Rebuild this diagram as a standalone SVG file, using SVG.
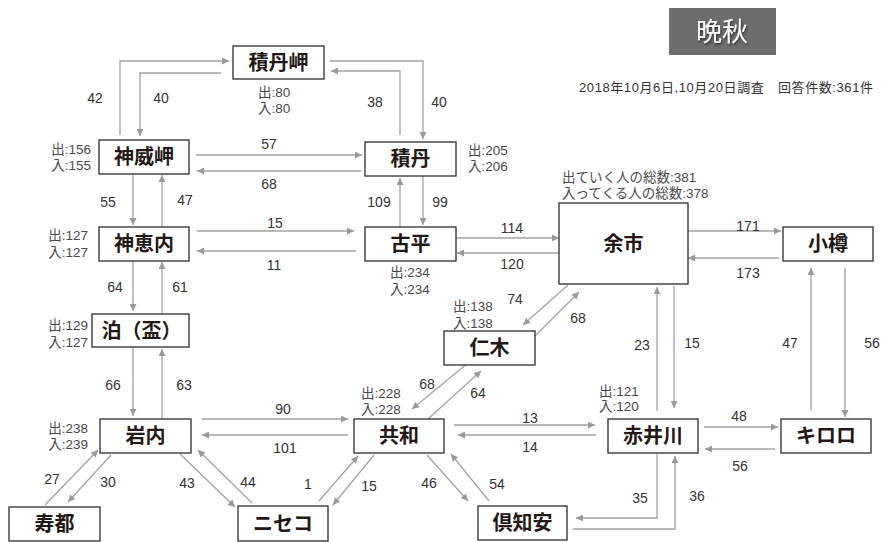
<svg xmlns="http://www.w3.org/2000/svg" width="884" height="542" viewBox="0 0 884 542">
<style>
text{font-family:"Liberation Sans","Noto Sans CJK JP",sans-serif}
.box{fill:#fff;stroke:#3e3a39;stroke-width:1.4}
.nl{font-size:20px;font-weight:bold;fill:#231815;text-anchor:middle}
.st{font-size:13.5px;fill:#4a4a4a}
.num{font-size:14px;fill:#333;text-anchor:middle}
.c path{fill:none;stroke:#a3a3a3;stroke-width:1.3;marker-end:url(#a)}
</style>
<defs>
<marker id="a" viewBox="0 0 10 10" refX="10" refY="5" markerWidth="8" markerHeight="7" markerUnits="userSpaceOnUse" orient="auto"><path d="M0,0 L10,5 L0,10 z" fill="#999"/></marker>
<filter id="sh" x="-20%" y="-20%" width="140%" height="140%"><feDropShadow dx="1" dy="1.5" stdDeviation="0.8" flood-color="#222" flood-opacity="0.9"/></filter>
</defs>
<rect width="884" height="542" fill="#fff"/>

<g id="title">
<rect x="669" y="8" width="107" height="47" fill="#6e6e6e"/>
<text x="722" y="41" font-size="26" fill="#fff" text-anchor="middle" filter="url(#sh)">晩秋</text>
<text x="579" y="92" font-size="13" fill="#333" textLength="294">2018年10月6日,10月20日調査　回答件数:361件</text>
</g>

<g class="c" id="connectors">
<path d="M120,135 V61 H229"/>
<path d="M221,73 H140 V136"/>
<path d="M400,135 V71 H331"/>
<path d="M330,61 H423 V139"/>
<path d="M196,155 H362"/>
<path d="M361,171 H197"/>
<path d="M400,227 V178"/>
<path d="M423,176 V225"/>
<path d="M133,174 V225"/>
<path d="M162,227 V175"/>
<path d="M197,231 H354"/>
<path d="M356,251 H197"/>
<path d="M133,261 V311"/>
<path d="M162,314 V262"/>
<path d="M133,347 V416"/>
<path d="M162,419 V349"/>
<path d="M202,419 H348"/>
<path d="M348,435 H202"/>
<path d="M45,505 L98,450"/>
<path d="M111,455 L68,502"/>
<path d="M180,454 L235,507"/>
<path d="M252,503 L198,450"/>
<path d="M319,501 L358,456"/>
<path d="M374,455 L333,505"/>
<path d="M427,455 L468,501"/>
<path d="M489,501 L451,454"/>
<path d="M454,425 H595"/>
<path d="M596,435 H458"/>
<path d="M428,419 L481,371"/>
<path d="M468,363 L412,409"/>
<path d="M568,285 L523,325"/>
<path d="M532,339 L579,292"/>
<path d="M456,238 H559"/>
<path d="M559,253 H457"/>
<path d="M688,231 H781"/>
<path d="M779,258 H688"/>
<path d="M657,411 V287"/>
<path d="M674,286 V408"/>
<path d="M811,411 V268"/>
<path d="M845,268 V417"/>
<path d="M704,427 H778"/>
<path d="M775,449 H705"/>
<path d="M657,454 V518 H576"/>
<path d="M573,529 H675 V456"/>
</g>

<g id="flow-labels">
<text class="num" x="95" y="103">42</text>
<text class="num" x="161" y="103">40</text>
<text class="num" x="375" y="107">38</text>
<text class="num" x="439" y="107">40</text>
<text class="num" x="269" y="149">57</text>
<text class="num" x="269" y="189">68</text>
<text class="num" x="108" y="207">55</text>
<text class="num" x="185" y="205">47</text>
<text class="num" x="275" y="228">15</text>
<text class="num" x="274" y="270">11</text>
<text class="num" x="115" y="292">64</text>
<text class="num" x="180" y="292">61</text>
<text class="num" x="379" y="207">109</text>
<text class="num" x="440" y="207">99</text>
<text class="num" x="512" y="233">114</text>
<text class="num" x="512" y="269">120</text>
<text class="num" x="515" y="304">74</text>
<text class="num" x="578" y="323">68</text>
<text class="num" x="748" y="231">171</text>
<text class="num" x="748" y="278">173</text>
<text class="num" x="642" y="350">23</text>
<text class="num" x="692" y="348">15</text>
<text class="num" x="790" y="348">47</text>
<text class="num" x="872" y="348">56</text>
<text class="num" x="113" y="390">66</text>
<text class="num" x="184" y="390">63</text>
<text class="num" x="283" y="414">90</text>
<text class="num" x="285" y="453">101</text>
<text class="num" x="52" y="484">27</text>
<text class="num" x="108" y="487">30</text>
<text class="num" x="187" y="488">43</text>
<text class="num" x="248" y="487">44</text>
<text class="num" x="427" y="389">68</text>
<text class="num" x="478" y="398">64</text>
<text class="num" x="530" y="423">13</text>
<text class="num" x="530" y="452">14</text>
<text class="num" x="308" y="489">1</text>
<text class="num" x="369" y="491">15</text>
<text class="num" x="429" y="488">46</text>
<text class="num" x="497" y="489">54</text>
<text class="num" x="739" y="421">48</text>
<text class="num" x="740" y="471">56</text>
<text class="num" x="640" y="503">35</text>
<text class="num" x="697" y="501">36</text>
</g>

<g id="n-shakotanmisaki">
<rect class="box" x="233" y="46" width="91" height="33"/>
<text class="nl" x="278.5" y="69.5">積丹岬</text>
<text class="st" x="258" y="97">出:80</text>
<text class="st" x="258" y="113">入:80</text>
</g>
<g id="n-kamuimisaki">
<rect class="box" x="99" y="140" width="90" height="34"/>
<text class="nl" x="144" y="164">神威岬</text>
<text class="st" x="91" y="154" text-anchor="end">出:156</text>
<text class="st" x="91" y="170" text-anchor="end">入:155</text>
</g>
<g id="n-shakotan">
<rect class="box" x="365" y="142" width="91" height="34"/>
<text class="nl" x="410.5" y="166">積丹</text>
<text class="st" x="468" y="155">出:205</text>
<text class="st" x="468" y="171">入:206</text>
</g>
<g id="n-kamoenai">
<rect class="box" x="99" y="227" width="90" height="34"/>
<text class="nl" x="144" y="251">神恵内</text>
<text class="st" x="88" y="240" text-anchor="end">出:127</text>
<text class="st" x="88" y="257" text-anchor="end">入:127</text>
</g>
<g id="n-tomari">
<rect class="box" x="92" y="314" width="97" height="33"/>
<text class="nl" x="141.5" y="337.5">泊（盃）</text>
<text class="st" x="88" y="330" text-anchor="end">出:129</text>
<text class="st" x="88" y="347" text-anchor="end">入:127</text>
</g>
<g id="n-furubira">
<rect class="box" x="365" y="227" width="91" height="34"/>
<text class="nl" x="410.5" y="251">古平</text>
<text class="st" x="390" y="277">出:234</text>
<text class="st" x="390" y="294">入:234</text>
</g>
<g id="n-yoichi">
<rect class="box" x="559" y="203" width="129" height="81"/>
<text class="nl" x="623.5" y="250.5">余市</text>
<text class="st" x="562" y="182" font-size="13">出ていく人の総数:381</text>
<text class="st" x="562" y="198" font-size="13">入ってくる人の総数:378</text>
</g>
<g id="n-otaru">
<rect class="box" x="783" y="227" width="90" height="34"/>
<text class="nl" x="828" y="251">小樽</text>
</g>
<g id="n-niki">
<rect class="box" x="444" y="331" width="91" height="34"/>
<text class="nl" x="489.5" y="355">仁木</text>
<text class="st" x="453" y="311">出:138</text>
<text class="st" x="453" y="328">入:138</text>
</g>
<g id="n-iwanai">
<rect class="box" x="100" y="419" width="91" height="34"/>
<text class="nl" x="145.5" y="443">岩内</text>
<text class="st" x="88" y="433" text-anchor="end">出:238</text>
<text class="st" x="88" y="449" text-anchor="end">入:239</text>
</g>
<g id="n-kyowa">
<rect class="box" x="354" y="419" width="90" height="34"/>
<text class="nl" x="399" y="443">共和</text>
<text class="st" x="361" y="398">出:228</text>
<text class="st" x="361" y="414">入:228</text>
</g>
<g id="n-akaigawa">
<rect class="box" x="608" y="419" width="90" height="34"/>
<text class="nl" x="653" y="443">赤井川</text>
<text class="st" x="599" y="396">出:121</text>
<text class="st" x="599" y="411">入:120</text>
</g>
<g id="n-kiroro">
<rect class="box" x="781" y="419" width="90" height="34"/>
<text class="nl" x="826" y="443">キロロ</text>
</g>
<g id="n-suttsu">
<rect class="box" x="9" y="507" width="91" height="34"/>
<text class="nl" x="54.5" y="531">寿都</text>
</g>
<g id="n-niseko">
<rect class="box" x="238" y="506" width="90" height="35"/>
<text class="nl" x="283" y="530.5">ニセコ</text>
</g>
<g id="n-kutchan">
<rect class="box" x="478" y="506" width="89" height="34"/>
<text class="nl" x="522.5" y="530">倶知安</text>
</g>
</svg>
